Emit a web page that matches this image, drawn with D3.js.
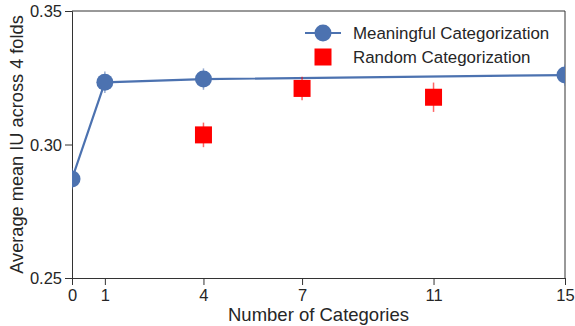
<!DOCTYPE html>
<html>
<head>
<meta charset="utf-8">
<script src="https://cdn.jsdelivr.net/npm/d3@7"></script>
<style>
  body { margin: 0; background: #fff; }
  text { font-family: "Liberation Sans", Arial, sans-serif; fill: #262626; }
</style>
</head>
<body>
<script>
const width = 575;
const height = 326;
const margin = { top: 11, right: 10, bottom: 48, left: 72 };
const plotW = width - margin.left - margin.right;
const plotH = height - margin.top - margin.bottom;

const xTicks = [0, 1, 4, 7, 11, 15];
const yTicks = [0.25, 0.30, 0.35];

const meaningfulX = [0, 1, 4, 15];
const meaningfulY = [0.2871, 0.3233, 0.3245, 0.3260];
const meaningfulErr = [0.004, 0.004, 0.004, 0.004];

const randomX = [4, 7, 11];
const randomY = [0.3036, 0.3210, 0.3177];
const randomErr = [0.0046, 0.0044, 0.0055];

const blue = "#4c72b0";
const red = "#ff0000";

const svg = d3.select("body").append("svg")
  .attr("width", width)
  .attr("height", height);

const g = svg.append("g")
  .attr("transform", `translate(${margin.left},${margin.top})`);

const x = d3.scaleLinear().domain([0, 15]).range([0, plotW]);
const y = d3.scaleLinear().domain([0.25, 0.35]).range([plotH, 0]);

g.append("clipPath").attr("id", "clip")
  .append("rect").attr("width", plotW).attr("height", plotH);

// top/right frame
g.append("line").attr("x1", 0).attr("x2", plotW).attr("y1", 0).attr("y2", 0)
  .attr("stroke", "#333").attr("stroke-width", 1);
g.append("line").attr("x1", plotW).attr("x2", plotW).attr("y1", 0).attr("y2", plotH)
  .attr("stroke", "#333").attr("stroke-width", 1);

const xAxis = g.append("g")
  .attr("transform", `translate(0,${plotH})`)
  .call(d3.axisBottom(x).tickValues(xTicks).tickSize(7).tickPadding(4).tickFormat(d3.format("d")));
const yAxis = g.append("g")
  .call(d3.axisLeft(y).tickValues(yTicks).tickSize(7).tickPadding(3).tickFormat(d3.format(".2f")));

[xAxis, yAxis].forEach(a => {
  a.select(".domain").attr("stroke", "#333");
  a.selectAll(".tick line").attr("stroke", "#333");
  a.selectAll(".tick text")
    .attr("font-size", 16.5)
    .attr("font-family", "Liberation Sans, Arial, sans-serif")
    .attr("fill", "#333");
});
yAxis.selectAll(".tick text").attr("dy", "0.35em");

const plot = g.append("g").attr("clip-path", "url(#clip)");

const meaningful = meaningfulX.map((d, i) => ({ x: d, y: meaningfulY[i], e: meaningfulErr[i] }));
const random = randomX.map((d, i) => ({ x: d, y: randomY[i], e: randomErr[i] }));

// error bars
plot.selectAll(".errB").data(meaningful).enter().append("line")
  .attr("x1", d => x(d.x)).attr("x2", d => x(d.x))
  .attr("y1", d => y(d.y - d.e)).attr("y2", d => y(d.y + d.e))
  .attr("stroke", blue).attr("stroke-opacity", 0.6).attr("stroke-width", 1.5);

plot.append("path").datum(meaningful)
  .attr("d", d3.line().x(d => x(d.x)).y(d => y(d.y)))
  .attr("fill", "none").attr("stroke", blue).attr("stroke-width", 2.2);

plot.selectAll(".dotB").data(meaningful).enter().append("circle")
  .attr("cx", d => x(d.x)).attr("cy", d => y(d.y)).attr("r", 8.5)
  .attr("fill", blue);

plot.selectAll(".errR").data(random).enter().append("line")
  .attr("x1", d => x(d.x)).attr("x2", d => x(d.x))
  .attr("y1", d => y(d.y - d.e)).attr("y2", d => y(d.y + d.e))
  .attr("stroke", red).attr("stroke-opacity", 0.6).attr("stroke-width", 1.5);

const sq = 17;
plot.selectAll(".sqR").data(random).enter().append("rect")
  .attr("x", d => x(d.x) - sq / 2).attr("y", d => y(d.y) - sq / 2)
  .attr("width", sq).attr("height", sq)
  .attr("fill", red);

// legend
const legend = svg.append("g").attr("transform", "translate(305,33)");
legend.append("line").attr("x1", 0).attr("x2", 36).attr("y1", 0).attr("y2", 0)
  .attr("stroke", blue).attr("stroke-width", 2.2);
legend.append("circle").attr("cx", 18).attr("cy", 0).attr("r", 8.5).attr("fill", blue);
legend.append("text").attr("x", 48).attr("y", 0).attr("dy", "0.35em")
  .attr("font-size", 16.9).text("Meaningful Categorization");
legend.append("rect").attr("x", 18 - sq / 2).attr("y", 24 - sq / 2)
  .attr("width", sq).attr("height", sq).attr("fill", red);
legend.append("text").attr("x", 48).attr("y", 24).attr("dy", "0.35em")
  .attr("font-size", 16.9).text("Random Categorization");

// axis titles
svg.append("text")
  .attr("x", margin.left + plotW / 2).attr("y", 321)
  .attr("text-anchor", "middle").attr("font-size", 18.5)
  .text("Number of Categories");
svg.append("text")
  .attr("transform", `translate(23,${margin.top + plotH / 2}) rotate(-90)`)
  .attr("text-anchor", "middle").attr("font-size", 18.2)
  .text("Average mean IU across 4 folds");
</script>
</body>
</html>
